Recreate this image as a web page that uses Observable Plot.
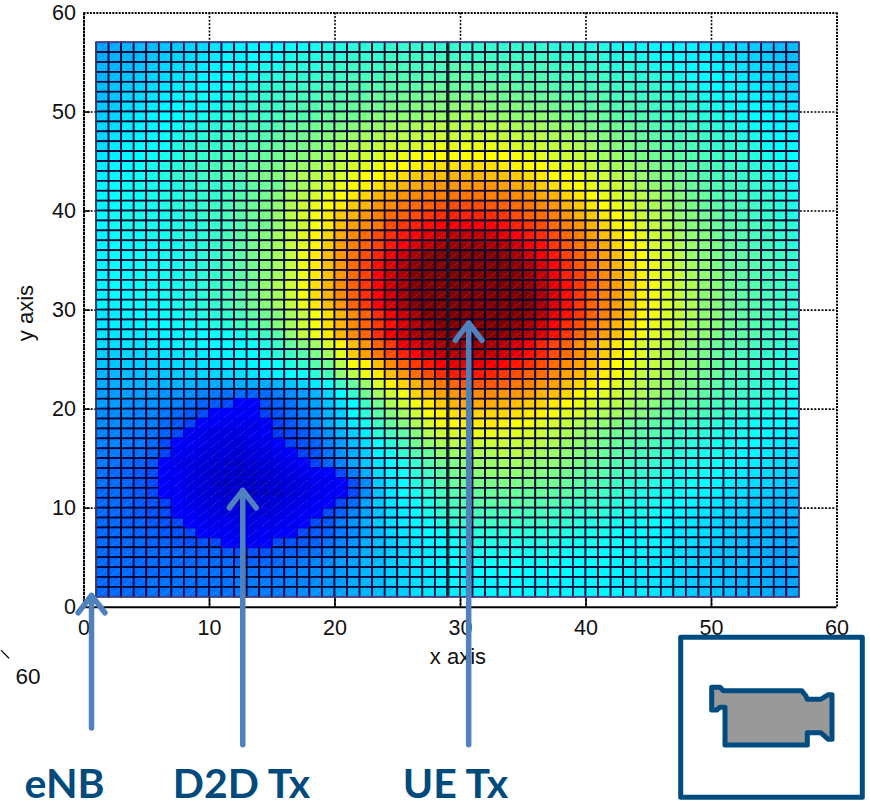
<!DOCTYPE html>
<html><head><meta charset="utf-8">
<style>html,body{margin:0;padding:0;background:#fff;overflow:hidden}svg{display:block}</style>
<script src="https://cdn.jsdelivr.net/npm/d3@7"></script>
<script src="https://cdn.jsdelivr.net/npm/@observablehq/plot@0.6"></script>
</head><body><div id="chart"></div>
<script>
const xTicks=[0,10,20,30,40,50,60];
const yTicks=[0,10,20,30,40,50,60];
const firstColumn=1;
const topRow=56;
const jetStops=[0,11,11.5,36,61,85,95];
const jetColors=["#00008f","#0000ff","#0034ff","#00ffff","#ffff00","#ff0000","#800000"];
// one list per row of the surface, top row first; each value is the colour level 0-100
const zRows=[
[25,26,27,28,28,29,30,31,32,33,34,35,35,36,36,37,37,38,39,39,40,40,40,41,41,41,41,41,41,41,41,41,41,41,41,41,40,40,40,39,39,38,37,37,36,36,35,35,34,33,32,31,30,29,28,28],
[26,27,27,28,29,30,31,32,33,34,35,35,36,37,37,38,39,39,40,40,41,41,41,42,42,42,42,42,42,42,42,42,42,42,42,42,41,41,41,40,40,39,39,38,37,37,36,35,35,34,33,32,31,30,29,28],
[27,27,28,29,30,31,32,33,34,35,36,36,37,38,38,39,40,40,41,41,42,42,42,43,43,43,43,43,44,44,44,43,43,43,43,43,42,42,42,41,41,40,40,39,38,38,37,36,36,35,34,33,32,31,30,29],
[27,28,29,30,31,32,33,34,35,36,36,37,38,39,40,40,41,41,42,42,43,43,43,44,44,44,44,44,45,45,45,44,44,44,44,44,43,43,43,42,42,41,41,40,40,39,38,37,36,36,35,34,33,32,31,30],
[28,29,30,31,32,33,34,35,36,36,37,38,39,40,41,41,42,42,43,43,44,44,44,45,45,45,46,46,46,46,46,46,46,45,45,45,44,44,44,43,43,42,42,41,41,40,39,38,37,36,36,35,34,33,32,31],
[28,29,31,32,33,34,35,36,37,37,38,39,40,41,42,42,43,43,44,44,45,45,46,46,47,47,47,48,48,48,48,48,47,47,47,46,46,45,45,44,44,43,43,42,42,41,40,39,38,37,37,36,35,34,33,32],
[29,30,32,33,34,35,36,36,37,38,39,40,41,42,42,43,44,44,45,45,46,47,47,48,48,49,49,49,50,50,50,49,49,49,48,48,47,47,46,45,45,44,44,43,42,42,41,40,39,38,37,36,36,35,34,33],
[30,31,33,34,35,36,36,37,38,39,40,41,42,42,43,44,44,45,46,47,47,48,49,50,50,50,51,51,52,52,52,51,51,50,50,50,49,48,47,47,46,45,44,44,43,42,42,41,40,39,38,37,36,36,35,34],
[31,32,34,35,35,36,37,38,39,40,41,42,43,43,44,45,46,47,47,48,49,50,51,52,52,53,54,54,54,54,54,54,54,53,52,52,51,50,49,48,47,47,46,45,44,43,43,42,41,40,39,38,37,36,35,35],
[31,33,34,35,36,37,38,39,40,41,42,43,43,44,45,46,47,48,49,50,51,52,53,54,54,55,55,56,56,56,56,56,55,55,54,54,53,52,51,50,49,48,47,46,45,44,43,43,42,41,40,39,38,37,36,35],
[32,34,35,36,36,37,39,40,41,41,42,43,44,45,46,47,48,49,50,52,53,54,55,56,56,57,58,59,59,59,59,59,58,57,56,56,55,54,53,52,50,49,48,47,46,45,44,43,42,41,41,40,39,37,36,36],
[33,34,35,36,37,38,39,41,41,42,43,44,45,46,47,48,49,51,52,54,55,56,57,58,59,60,61,61,61,61,61,61,61,60,59,58,57,56,55,54,52,51,49,48,47,46,45,44,43,42,41,41,39,38,37,36],
[34,35,36,37,38,39,40,41,42,43,44,44,46,47,48,50,51,52,54,55,57,58,59,61,61,62,63,64,64,64,64,64,63,62,61,61,59,58,57,55,54,52,51,50,48,47,46,44,44,43,42,41,40,39,38,37],
[34,35,36,37,38,39,41,41,42,43,44,45,47,48,49,51,53,54,56,57,59,61,61,63,64,66,67,67,68,68,68,67,67,66,64,63,61,61,59,57,56,54,53,51,49,48,47,45,44,43,42,41,41,39,38,37],
[35,36,37,38,38,38,39,40,41,41,42,43,45,46,47,50,52,55,57,59,61,62,64,66,68,69,70,71,71,71,71,71,70,69,68,66,64,62,61,59,57,56,54,52,50,49,48,46,45,44,43,42,41,40,39,38],
[35,36,37,37,38,39,39,40,41,41,43,44,46,47,49,52,54,57,59,61,63,65,68,69,71,72,73,73,74,74,74,73,73,72,71,69,68,65,63,61,59,57,55,54,52,50,49,47,46,44,43,42,41,41,39,38],
[35,36,37,38,38,39,40,40,41,42,43,45,46,48,50,53,56,59,61,63,66,68,71,72,74,75,76,77,78,78,78,77,76,75,74,72,71,68,66,63,61,59,57,55,53,51,49,48,46,45,44,43,42,41,40,39],
[36,37,38,38,38,38,39,40,41,42,43,45,46,48,51,54,57,60,63,66,68,71,73,75,76,78,80,81,82,82,82,81,80,78,76,75,73,71,68,66,63,61,58,56,54,52,50,49,47,46,44,43,42,41,40,39],
[36,37,38,38,38,38,39,39,40,41,42,44,46,47,50,53,56,60,63,67,70,72,74,78,80,82,84,85,85,86,85,85,84,82,80,78,75,73,71,68,65,62,60,57,55,53,51,49,48,46,45,44,43,42,41,40],
[35,36,37,37,38,38,39,39,40,41,43,45,47,49,52,54,58,62,65,69,72,75,78,81,83,85,87,89,90,90,90,89,87,85,83,81,78,75,73,70,67,64,61,59,56,54,52,50,49,47,45,44,43,42,41,40],
[35,36,36,37,37,38,38,39,40,41,43,45,47,49,52,55,58,62,66,70,73,76,79,83,85,88,90,92,93,93,93,92,91,89,86,84,80,77,74,72,69,65,62,60,57,55,53,51,49,48,46,44,43,42,41,40],
[35,36,36,37,37,38,38,39,40,41,43,45,47,49,52,55,59,63,67,71,74,78,82,86,89,92,94,95,96,96,96,95,94,92,89,86,83,79,76,73,70,67,63,61,58,56,54,51,49,48,46,45,44,43,42,41],
[35,36,36,37,37,38,38,39,40,41,43,45,47,49,52,55,59,63,67,71,75,79,84,88,91,94,96,97,98,98,98,97,96,94,92,88,85,81,77,74,71,68,64,61,59,56,54,52,50,48,46,45,44,43,42,41],
[35,36,36,37,37,38,38,39,40,41,43,45,47,49,52,55,59,63,67,71,75,79,85,89,92,95,97,98,99,99,99,98,97,95,93,90,86,82,79,75,72,69,65,62,59,57,55,52,50,49,47,45,44,43,42,41],
[35,36,36,37,37,38,38,39,40,41,43,45,47,50,53,56,60,64,68,72,76,80,85,89,92,95,97,99,100,100,100,100,98,96,94,91,87,84,80,76,73,70,66,62,60,57,55,53,50,49,47,45,44,43,42,41],
[35,36,36,37,37,38,38,39,40,42,43,45,47,50,52,56,60,64,68,72,76,81,85,89,92,95,97,99,100,100,100,100,99,97,95,92,88,84,80,76,73,70,66,62,60,57,55,53,50,49,47,45,44,43,42,41],
[35,35,36,36,37,37,38,39,40,41,43,45,47,49,52,55,59,63,67,71,76,80,85,89,92,95,97,99,100,100,100,100,99,97,95,92,88,84,80,76,73,70,66,62,60,57,55,53,50,49,47,45,44,43,42,41],
[33,34,35,36,36,37,37,38,39,40,41,43,45,47,49,52,55,60,64,68,72,76,81,86,89,92,95,97,98,99,99,99,98,96,94,91,87,84,80,76,73,70,66,62,60,57,55,53,50,49,47,45,44,43,42,41],
[33,34,34,35,36,36,37,37,38,39,40,42,44,46,49,52,56,60,64,68,72,76,80,84,88,91,93,95,97,98,98,97,96,94,92,89,85,81,78,74,71,68,64,61,59,57,55,52,50,49,47,45,44,43,42,41],
[33,33,34,34,35,35,35,36,36,37,37,38,40,42,45,50,55,59,63,68,72,76,81,86,89,92,93,94,95,96,96,95,94,93,91,88,84,80,76,73,70,67,63,60,58,56,54,52,50,48,46,45,44,43,42,41],
[32,32,33,33,34,34,35,35,36,36,36,36,37,39,42,46,49,52,57,62,67,71,76,80,86,88,90,92,93,93,93,92,91,88,86,82,79,76,72,69,66,63,59,57,56,54,52,50,48,46,45,44,43,42,41,40],
[30,30,31,31,32,33,33,34,34,35,35,36,36,38,40,42,44,48,52,58,66,70,74,78,82,85,88,90,91,91,91,90,89,87,84,82,78,75,72,69,66,63,60,58,55,53,51,49,48,46,44,43,42,41,40,39],
[29,29,30,30,31,31,32,32,33,33,34,34,35,36,37,39,41,44,47,54,60,62,67,72,76,80,83,86,87,87,87,86,85,83,81,78,75,72,70,67,64,61,59,57,55,53,51,50,48,46,44,43,42,41,40,39],
[27,27,28,28,29,29,30,30,31,31,32,32,33,34,35,36,37,40,43,50,54,59,63,67,71,75,78,81,83,83,83,82,80,78,76,75,72,70,68,65,63,60,58,55,54,52,50,49,47,46,44,43,42,41,40,39],
[26,26,27,27,27,27,27,27,26,26,26,26,26,26,27,29,31,34,37,42,46,51,57,62,65,68,71,74,76,77,77,77,76,74,73,71,70,67,65,63,60,58,56,54,52,51,49,48,46,45,43,42,41,40,39,38],
[24,24,24,24,24,23,23,22,21,20,19,18,17,18,20,22,24,27,31,36,41,47,52,56,60,65,67,70,71,72,72,72,71,71,70,68,67,65,62,60,58,56,54,53,51,49,48,46,45,44,43,42,41,40,39,38],
[24,24,23,23,23,22,21,19,17,16,14,11,11,15,17,19,22,25,29,33,36,42,47,53,56,60,63,66,68,69,69,69,68,67,66,65,63,61,59,57,55,54,52,50,49,47,46,45,44,43,42,41,40,39,38,37],
[22,22,22,21,21,20,18,16,14,11,11,10,11,13,15,18,20,23,27,30,36,40,45,49,52,56,60,62,64,65,65,65,65,64,63,62,60,58,57,55,53,52,50,49,47,46,45,44,43,42,41,40,39,38,37,36],
[22,22,21,21,20,18,16,13,11,10,9,9,9,10,13,16,19,22,26,30,34,38,42,46,49,53,57,60,61,62,63,63,62,61,60,58,57,55,53,52,50,49,47,46,45,44,43,42,41,40,39,38,37,36,36,35],
[21,21,20,20,19,17,14,10,9,8,8,8,9,10,12,14,16,20,23,27,30,34,40,43,45,49,53,56,57,58,59,59,58,58,57,56,54,53,51,50,48,47,46,45,44,43,42,41,40,39,38,38,37,36,35,34],
[21,21,20,20,18,14,11,10,9,8,7,7,8,9,11,13,15,17,21,24,28,32,37,40,43,47,50,53,54,55,56,56,56,55,55,54,53,51,50,49,47,46,45,44,43,42,41,40,39,38,38,37,36,35,34,33],
[20,20,19,19,17,13,10,9,8,7,7,6,7,8,9,11,13,15,19,23,26,30,35,38,41,44,46,50,51,52,53,53,54,54,53,52,51,50,49,48,46,45,44,43,42,41,40,39,38,38,37,36,35,34,33,32],
[20,19,18,17,15,11,9,8,7,6,5,5,6,7,8,9,11,13,17,21,25,29,33,36,38,41,44,47,48,50,51,51,52,52,51,50,50,49,48,46,45,44,43,42,41,40,39,38,38,37,36,35,34,33,32,31],
[19,18,17,16,14,11,10,8,7,5,5,4,5,6,7,8,9,10,11,14,20,26,32,35,37,40,42,45,47,48,49,50,50,50,49,49,48,47,46,45,44,43,42,41,40,39,38,38,37,36,35,34,33,32,31,30],
[19,18,17,16,14,11,10,8,7,5,4,4,4,5,6,7,8,9,10,11,14,22,30,33,36,39,41,44,46,47,48,48,48,48,48,47,47,46,45,44,43,42,41,40,39,38,38,37,36,35,34,33,32,31,30,29],
[18,18,17,16,14,11,10,8,7,6,5,4,4,5,5,7,8,9,10,11,14,22,29,33,36,38,40,43,44,45,46,46,46,46,46,46,45,45,44,43,42,41,40,39,38,38,37,36,35,34,33,32,31,30,29,28],
[18,18,17,16,15,13,11,9,8,7,6,5,5,6,7,8,9,10,11,14,18,25,30,33,35,37,39,42,43,44,45,45,45,45,45,44,44,43,42,42,41,40,39,38,38,37,36,35,34,33,32,31,30,29,28,27],
[18,18,17,16,15,14,11,10,9,8,7,7,7,7,8,9,10,11,14,17,21,25,29,32,34,36,38,41,42,43,43,43,43,43,43,43,42,42,41,41,40,39,38,38,37,36,35,34,33,32,31,30,29,28,27,27],
[18,18,17,17,16,15,14,11,10,9,9,8,8,9,9,10,11,14,16,20,23,26,30,32,34,35,37,39,41,42,42,42,42,42,42,42,41,41,40,39,39,38,37,37,36,35,34,33,32,31,30,29,28,27,27,26],
[18,18,18,17,17,16,15,14,11,10,10,9,9,10,10,11,14,16,17,20,22,25,28,31,33,34,36,37,38,39,40,40,40,40,40,40,40,39,39,38,38,37,36,36,35,34,33,33,32,31,30,29,28,27,26,26],
[18,18,18,18,17,17,16,15,15,14,11,10,10,11,14,15,16,17,19,21,23,26,28,30,32,33,35,36,37,38,39,39,39,39,39,39,39,38,38,38,37,37,36,35,35,34,33,32,31,30,29,28,27,27,26,25],
[18,18,18,18,18,18,18,17,17,17,16,15,15,15,17,17,18,19,21,22,24,26,28,30,31,33,34,35,36,37,38,38,38,38,38,38,38,37,37,37,36,36,35,35,34,33,32,31,30,29,29,28,27,26,25,25],
[18,18,18,18,18,18,18,18,18,18,18,17,17,17,18,19,20,21,22,24,25,27,28,30,31,33,34,35,36,36,37,37,37,37,37,37,37,36,36,36,36,35,35,34,33,33,32,31,30,29,28,28,27,26,25,25],
[18,18,18,18,18,18,19,19,19,19,19,19,19,19,19,20,21,22,23,24,25,27,28,30,31,32,33,34,35,36,36,36,36,36,36,36,36,36,36,35,35,35,34,34,33,32,31,30,29,29,28,27,27,26,25,25],
[18,18,18,18,19,19,19,19,19,19,19,20,20,20,20,21,21,22,23,24,26,27,28,30,31,32,33,34,35,35,35,35,35,35,35,35,35,35,35,35,35,34,34,33,33,32,31,30,29,29,28,27,27,26,25,25],
[18,18,18,18,19,19,19,19,19,19,19,20,20,20,20,21,22,23,24,25,26,27,28,29,30,32,33,33,34,35,35,35,35,35,35,35,35,35,35,35,35,35,34,34,33,32,31,30,29,29,28,27,27,26,25,25]
];
const annotationArrows=[{name:"eNB",x:0.6,tip:1.2,tail:-12.2},{name:"D2D Tx",x:12.65,tip:11.8,tail:-13.9},{name:"UE Tx",x:30.65,tip:28.7,tail:-13.9}];
const annotationLabels=[{name:"eNB",x:-1.55},{name:"D2D Tx",x:12.55},{name:"UE Tx",x:29.6}];
const boxPixels=[[680.7,637.3],[862.3,637.3],[862.3,797.3],[680.7,797.3]];
const cameraPixels=[[711.7,687.3],[720,687.3],[723.3,690.7],[801.7,690.7],[806,696],[807.3,699.3],[820.7,699.3],[828.3,694.7],[832,694.7],[832,739.3],[828.3,739.3],[820.7,732.7],[807.3,732.7],[807.3,745],[725,745],[725,707.3],[720,707.3],[716.7,710],[711.7,710]];

const cells=zRows.flatMap((row,r)=>row.map((v,c)=>({x:firstColumn+c,y:topRow-r,v})));
const bg=cells.filter(d=>d.v>11), blob=cells.filter(d=>d.v<=11);
const navy="#000030", ink="#000000", blue="#0000e6", arrowBlue="#4f81bd", labelBlue="#004a7c";
const inner=xTicks.slice(1,-1);
const cellRect=(data,stroke,sw)=>Plot.rect(data,{x1:"x",x2:d=>d.x+1,y1:"y",y2:d=>d.y+1,fill:"v",stroke,strokeWidth:sw});

const chart=Plot.plot({
  width:870,height:802,marginLeft:83.5,marginRight:33.5,marginTop:12.5,marginBottom:195.3,
  style:{fontFamily:"'Liberation Sans',Arial,sans-serif",background:"#fff",overflow:"hidden"},
  x:{domain:[0,60]},y:{domain:[0,60]},
  color:{type:"linear",domain:jetStops,range:jetColors,clamp:true},
  marks:[
    Plot.ruleX(inner,{stroke:ink,strokeWidth:1.6,strokeDasharray:"2 1.6"}),
    Plot.ruleY(inner,{stroke:ink,strokeWidth:1.6,strokeDasharray:"2 1.6"}),
    Plot.ruleY([60],{stroke:ink,strokeWidth:2,strokeDasharray:"2 1.2"}),
    Plot.ruleX([60],{stroke:ink,strokeWidth:2,strokeDasharray:"2 1.2"}),
    Plot.ruleX([0],{stroke:ink,strokeWidth:2,strokeDasharray:"3 .6"}),
    Plot.ruleY([0],{stroke:ink,strokeWidth:2}),
    Plot.ruleX(inner,{y1:0,y2:0.9,stroke:ink,strokeWidth:1.6}),
    Plot.ruleY(inner,{x1:0,x2:0.5,stroke:ink,strokeWidth:1.6}),
    Plot.axisX({ticks:xTicks,tickSize:0,tickPadding:13,fontSize:21.5,label:null,tickFormat:d=>String(d),fill:"#111"}),
    Plot.axisY({ticks:yTicks,tickSize:0,tickPadding:8,fontSize:21.5,label:null,tickFormat:d=>String(d),fill:"#111"}),
    Plot.text(["x axis"],{x:()=>29.8,y:()=>-5,text:d=>d,fill:"#111",fontSize:22}),
    Plot.text(["y axis"],{x:()=>-4.6,y:()=>29.7,text:d=>d,rotate:-90,fill:"#111",fontSize:22}),
    cellRect(bg,navy,1.7),
    cellRect(blob,blue,1.2),
    Plot.link(cells,{x1:d=>d.x+.12,y1:d=>d.y+.12,x2:d=>d.x+.88,y2:d=>d.y+.88,stroke:"#fff",strokeOpacity:.3,strokeWidth:.7,strokeDasharray:"1.5 1"}),
    Plot.ruleX([29],{y1:1,y2:57,stroke:"#101828",strokeWidth:3.2,strokeOpacity:.85}),
    Plot.rect([0],{x1:1,x2:57,y1:1,y2:57,fill:"none",stroke:"#4e4e9e",strokeWidth:1.2}),
    Plot.arrow(annotationArrows,{x1:"x",x2:"x",y1:"tail",y2:"tip",stroke:arrowBlue,strokeWidth:5.5,headLength:6,headAngle:75,strokeLinecap:"round"}),
    Plot.text(annotationLabels,{x:"x",y:()=>-17.9,text:"name",fill:labelBlue,fontSize:41,fontWeight:700,fontFamily:"Lato"}),
    Plot.text(["60"],{x:()=>-4.47,y:()=>-7.07,text:d=>d,fill:"#111",fontSize:22.5}),
    Plot.link([0],{x1:()=>-6.62,y1:()=>-4.34,x2:()=>-5.98,y2:()=>-5.15,stroke:ink,strokeWidth:1.2}),
    ()=>{
      const g=d3.create("svg:g").attr("stroke","#004b7f").attr("stroke-linejoin","round").attr("stroke-width",5);
      g.append("path").attr("d","M"+boxPixels.join("L")+"Z").attr("fill","none");
      g.append("path").attr("d","M"+cameraPixels.join("L")+"Z").attr("fill","#999");
      return g.node();
    }
  ]
});
document.getElementById("chart").append(chart);
</script></body></html>
